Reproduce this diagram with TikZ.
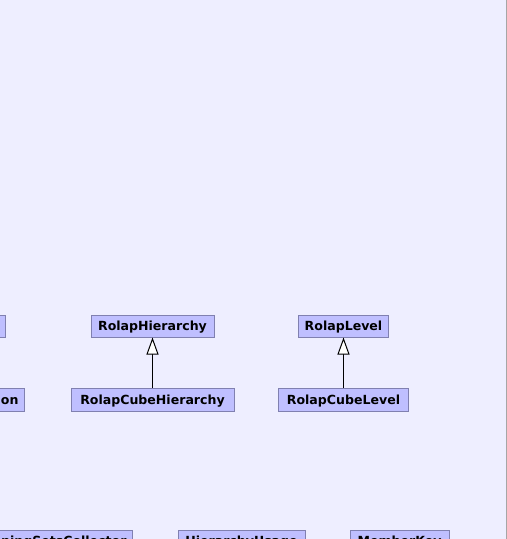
\documentclass[tikz,border=0pt]{standalone}
\usepackage{fontspec}
\setsansfont{DejaVu Sans}
\usetikzlibrary{arrows.meta}
\definecolor{bgfill}{RGB}{238,238,255}
\definecolor{boxfill}{RGB}{191,191,255}
\definecolor{boxline}{RGB}{128,128,176}
\tikzset{
    cls/.style={
        draw=boxline,
        fill=boxfill,
        line width=1bp,
        minimum height=22bp,
        inner xsep=6bp,
        inner ysep=0bp,
        text height=9.2bp,
        text depth=0bp,
        font=\sffamily\bfseries\fontsize{12.6}{14}\selectfont
    },
    inherit/.style={
        line width=1bp,
        -{Triangle[length=17bp,width=12bp,fill=white]}
    }
}

\begin{document}
\begin{tikzpicture}[x=1bp,y=-1bp]
        \useasboundingbox (0,0) rectangle (507,539);
        \clip (0,0) rectangle (507,539);
        \fill[bgfill] (0,0) rectangle (506,539);
        \draw[black!35,line width=1bp] (506.5,0) -- (506.5,539);
        % upper row
        \node[cls,anchor=east,minimum width=40bp] (leftcut) at (6,326) {};
        \node[cls,minimum width=123bp] (rh) at (152.5,326) {RolapHierarchy};
        \node[cls,minimum width=89bp] (rl) at (343.5,326) {RolapLevel};
        % middle row
        \node[cls,anchor=east,minimum height=23bp] (oncut) at (25,399.5) {on};
        \node[cls,minimum width=163bp,minimum height=23bp] (rch) at (152.5,399.5) {RolapCubeHierarchy};
        \node[cls,minimum width=130bp,minimum height=23bp] (rcl) at (343.5,399.5) {RolapCubeLevel};
        % lower row
        \node[cls,anchor=east,text width=150bp,align=right] (gsc) at (133,541) {pingSetsCollector};
        \node[cls,minimum width=127bp] (hu) at (241.5,541) {HierarchyUsage};
        \node[cls,minimum width=99bp] (mk) at (399.5,541) {MemberKey};
        % inheritance
        \draw[inherit] (rch) -- (rh);
        \draw[inherit] (rcl) -- (rl);
    \end{tikzpicture}
\end{document}
